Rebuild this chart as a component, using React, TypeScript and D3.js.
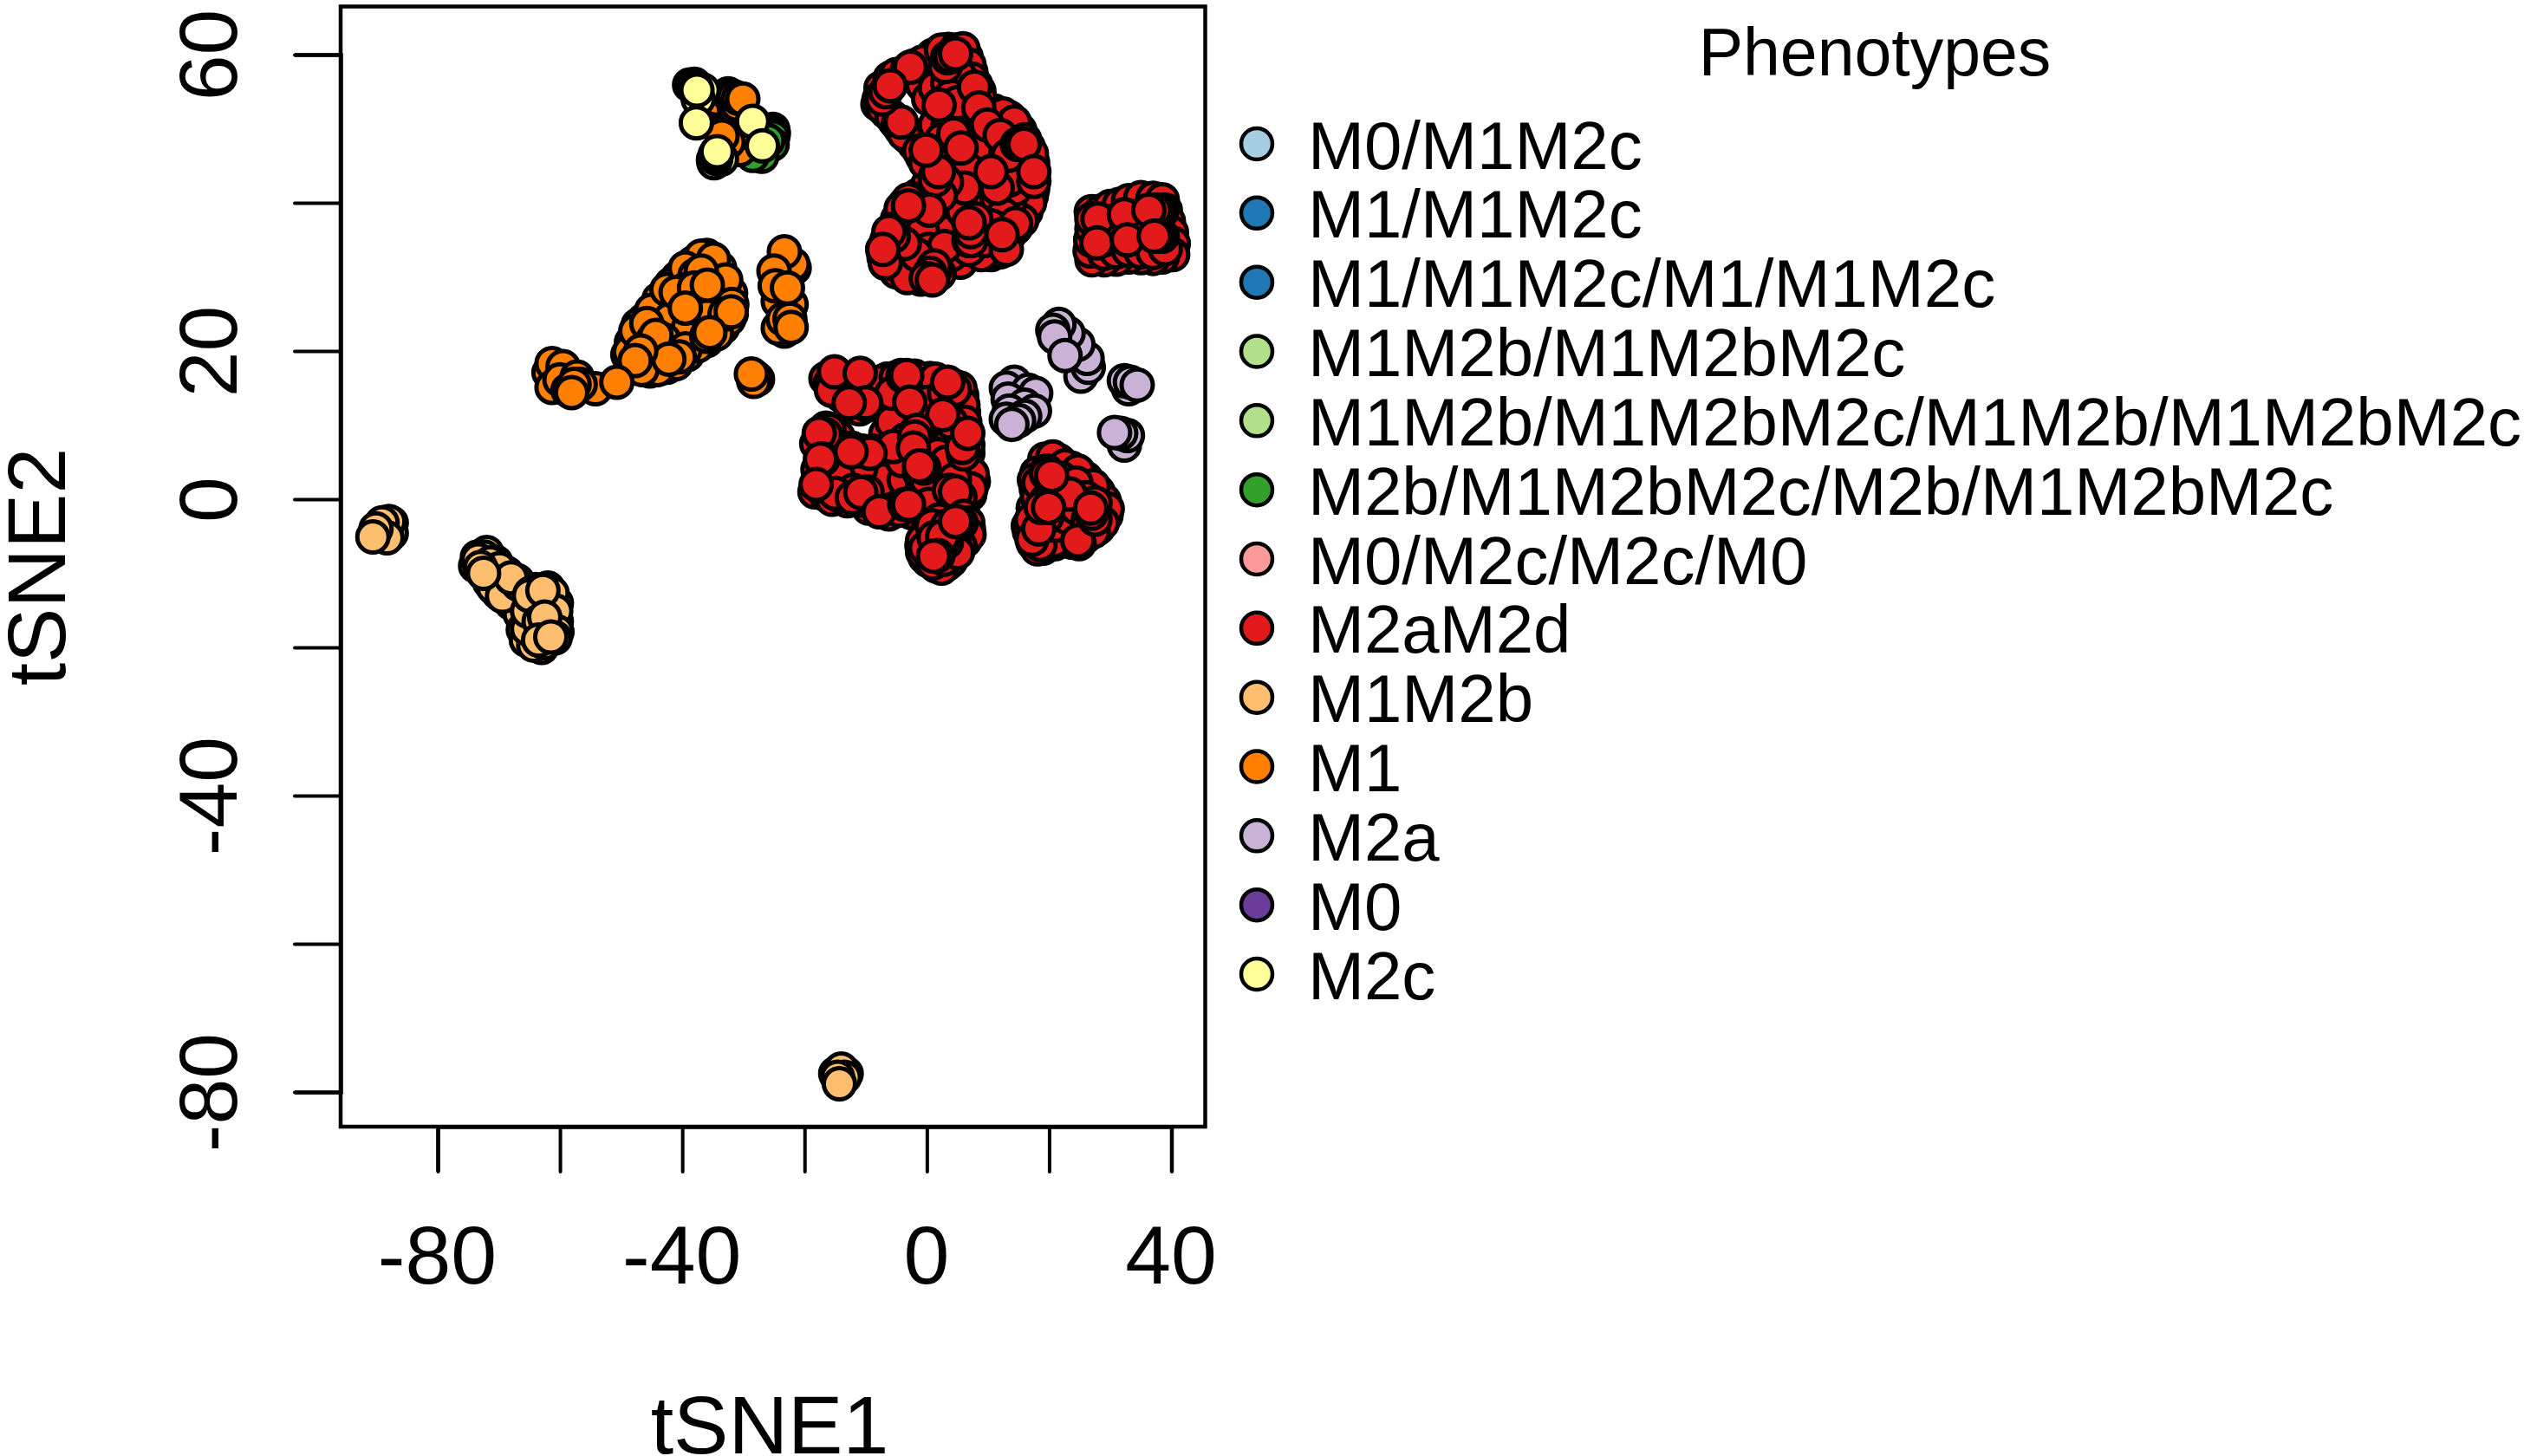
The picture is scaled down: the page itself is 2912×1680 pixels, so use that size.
import React, { useEffect, useRef } from "react";
import * as d3 from "d3";

type Pt = [number, number];

const xTicks = [-80, -60, -40, -20, 0, 20, 40];
const xLabelled = [-80, -40, 0, 40];
const yTicks = [-80, -60, -40, -20, 0, 20, 40, 60];
const yLabelled = [-80, -40, 0, 20, 60];

const legendTitle = "Phenotypes";
const phenotypes = [
  "M0/M1M2c",
  "M1/M1M2c",
  "M1/M1M2c/M1/M1M2c",
  "M1M2b/M1M2bM2c",
  "M1M2b/M1M2bM2c/M1M2b/M1M2bM2c",
  "M2b/M1M2bM2c/M2b/M1M2bM2c",
  "M0/M2c/M2c/M0",
  "M2aM2d",
  "M1M2b",
  "M1",
  "M2a",
  "M0",
  "M2c",
];
const phenotypeColors = [
  "#A6CEE3", "#1F78B4", "#1F78B4", "#B2DF8A", "#B2DF8A", "#33A02C", "#FB9A99",
  "#E31A1C", "#FDBF6F", "#FF7F00", "#CAB2D6", "#6A3D9A", "#FFFF99",
];

const greenPoints: Pt[] = [
  [-25.2, 49.9], [-25.1, 49.4], [-25.2, 48.9], [-25.3, 47.9], [-27.5, 46.8], [-27, 46.3], [-28.5, 46.4], [-26, 48.4],
];

const redTopRim: Pt[] = [
  [-8, 53.3], [-6.5, 52.2], [-5.2, 51], [-4.2, 49.9], [-3, 48.8], [-2, 47.9], [-0.7, 46.2], [0.6, 44.4], [2, 42.8],
  [-7.5, 55.5], [-6, 56.8], [-5, 57.3], [-2, 58.5], [1, 59.9], [3.5, 60.7], [6.4, 59.7], [7.2, 57.6], [8, 55.9], [8.8, 53],
  [10, 52.6], [11, 52.4], [13.5, 51.5], [15.2, 49.8], [16.6, 47.5], [17.3, 45.4], [17.4, 43], [17.1, 41], [16.2, 38.8],
  [14.5, 36.6], [12.8, 34.5], [10.5, 33], [7.9, 33.2], [5.5, 32], [4, 33], [2, 30.4], [-1, 29.7], [-5, 30.7], [-7, 32.7],
  [-6.5, 35], [-4.8, 37.8], [-3.6, 39.8], [-1.5, 41], [0.2, 42.5], [-1.8, 40.5],
];
const redTopBack: Pt[] = [
  [-7.8, 54], [-7.2, 52.8], [-5.7, 51.6], [-4.7, 50.5], [-3.7, 49.3], [-1.2, 47], [-0.2, 45.4], [1.4, 43.5],
  [-3.2, 57.9], [-0.7, 59], [2.4, 60.6], [4.7, 60.6], [5.9, 60.8], [6.9, 58.6], [7.4, 56.7], [8.5, 55.1], [8.7, 54],
  [12.5, 52], [14.3, 50.9], [16, 48.5], [17.1, 46.6], [17.3, 44.2], [17.3, 41.9], [16.8, 40], [15.5, 37.6],
  [13.5, 35.7], [12, 33.4], [8.9, 33], [6.9, 33.7], [-3, 40.4], [-4.2, 39.2], [-5.2, 36.5], [-7.2, 33.7],
  [-6.7, 31.8], [-3.2, 29.9], [0.9, 29.7], [1.4, 31],
];
const redTopInner: Pt[] = [
  [-0.7, 55.9], [0.3, 54], [1.4, 55.5], [3.4, 56.3], [5.4, 57.1], [3.9, 54.4], [2.4, 52.4], [4.4, 52],
  [1.4, 50.5], [3.4, 50.1], [5.4, 50.5], [2.4, 48.5], [4.4, 48.1], [6.4, 48.5], [5.4, 46.6], [6.9, 45.8],
  [3.9, 45.4], [5.9, 43.9], [4.9, 42.3], [7.4, 42.3], [4.4, 40.4], [6.4, 40.4], [1.9, 39.2], [3.4, 38.4],
  [1.4, 36.5], [3.9, 36.1], [-0.7, 36.1], [0.3, 33.7], [2.9, 34.1], [-1.7, 33], [-3.7, 34.5], [9.5, 40],
  [11.5, 40.7], [13.5, 40], [14.5, 41.9], [12.5, 38.4], [10.5, 36.9], [14.5, 37.2], [9.5, 34.9], [6.9, 34.9],
  [3.9, 47], [4.9, 44.9], [6.4, 52.7], [2.9, 46.2], [7.9, 47.2], [5, 53.5], [6.9, 44.4], [5.9, 38.9],
  [2, 53.2], [5.2, 49], [3, 47.2], [4.4, 49.3], [5.6, 47.4], [6.2, 42], [3.2, 42.8], [2.2, 41],
];
const redTopFront: Pt[] = [
  [-2.7, 58.3], [-4.2, 50.9], [-7.3, 54], [-6.7, 55], [-6, 55.8], [3, 58.4], [3.4, 59.6], [3.9, 59.8], [4.7, 60.1],
  [7.8, 55.6], [8.5, 52.8], [9.9, 50.5], [12, 49.1], [1.4, 43.1], [1.9, 44.2], [-0.1, 47.1], [13.5, 43.1],
  [13.3, 46.4], [14.8, 47.9], [15.3, 47.9], [15.9, 47.9], [17.5, 42.9], [17.5, 44.2], [11.5, 42], [10.5, 44.2],
  [0.4, 39], [-3, 39.6], [-5.5, 35.5], [-6.2, 36.1], [-6.8, 31.9], [-7.2, 33.7], [13, 33.7],
  [8, 37.8], [7.2, 34.9], [7.2, 36.1], [6.9, 37.3], [12.3, 35.7], [1.2, 31.5], [0.5, 30.5], [-0.1, 29.8], [0.9, 29.6],
];

const redRightBack: Pt[] = [
  [26.9, 38.8], [28.5, 38.9], [30, 39.5], [31.5, 39.8], [33, 40.3], [35, 40.7], [37, 40.6], [38.5, 40.4], [39, 39],
  [39.5, 37.5], [40, 36], [40.3, 34.5], [40.2, 33], [38.5, 32.7], [37, 32.5], [35, 32.6], [33, 32.7], [31, 32.4],
  [29, 32.3], [27, 32.3], [26.7, 33.5], [26.8, 35], [27, 36.5], [27, 37.8], [29, 33.2], [31, 33.4], [33, 33.6],
  [35, 33.4], [37, 33.3], [39, 33.8], [29, 35], [31, 35.6], [34.5, 36.6], [30, 37.5], [34.4, 38.2],
];
const redRightFront: Pt[] = [
  [28, 37.8], [27.8, 34.6], [32.3, 38.4], [32.8, 35], [38.4, 38.8], [37.8, 39], [37.2, 39], [36.3, 39],
  [38.5, 35.5], [38, 35.5], [37.6, 35.5], [37.2, 35.5],
];

const redMidRim: Pt[] = [
  [-16.5, 16.3], [-15.8, 15.6], [-14, 14], [-12.5, 12.4], [-11, 12.2], [-8.6, 14.8], [-6.5, 16.2], [-4.2, 16.7],
  [-2, 16.6], [0.5, 16.3], [2.6, 15.8], [4.6, 15.2], [5.7, 14], [6, 11.7], [6.4, 9.2], [6.7, 6.2], [6.8, 4], [7.6, 2.4],
  [7, 0.6], [-16.5, 9.6], [-18, 7.5], [-17.8, 4], [-18.3, 1], [-16.5, 0.6], [-15.5, 0], [-13, -0.2], [-9.5, -1.2],
  [-6.2, -2], [-2.5, -1.8], [1.5, -1], [3.5, -0.3],
];
const redMidBack: Pt[] = [
  [-15.6, 14.7], [-9.8, 12.7], [-7.8, 15.8], [-5, 16.4], [-0.7, 16.2], [1.4, 16.2], [5.4, 15], [5.9, 12.7], [6.2, 10.4],
  [6.7, 7.3], [6.4, 4.9], [7.4, 3.4], [7.2, 1.4], [5.4, 0.3], [-14.5, 8.4], [-12.3, 6.9], [-12.8, 3.4], [-14.3, 0.5],
  [-17.4, 1.8], [-11.3, 0.7], [-10.8, -0.1], [-7.8, -1.5], [-4.5, -1.5], [-0.7, -1.3], [-6.7, 8.8], [-6.2, 4.9],
  [-7.3, 2.6], [-3.7, 2.6], [-0.7, 1.8], [2.4, 1.8], [4.4, 4.2], [1.4, 4.5], [3.9, 7.3], [2.4, 8.4], [1.4, 9.6],
  [-0.2, 11.2], [-2.7, 11.2], [-5.7, 10.4], [-8.8, 6.5], [-10.8, 4.2], [-9.8, 1], [3.9, 10.4], [0.3, 13.1], [2.9, 14.3],
  [-5.7, 14.3], [-16, 9.3], [-15.5, 6.9], [-16, 4.5], [-14.5, 3], [-12, 1.2], [-3.5, 8], [-4, 5.2], [-1, 8.2],
  [0.3, 6.5], [1.8, 6], [3.2, 5], [-1.2, 3.6], [-5.5, 7.1], [0, 2.6], [4.5, 2.6], [6, 6.1],
];
const redMidFront: Pt[] = [
  [-15.1, 17.2], [-10.9, 17], [-3.9, 16.6], [-3.3, 16.7], [4.5, 14.8], [3.4, 15.8], [-10, 13], [-12.7, 13], [-2.8, 13.1],
  [5.8, 7], [6.7, 8.9], [2.6, 11.4], [-16.6, 8.7], [-17.6, 8.9], [-17, 5.4], [-17.4, 5.4], [-10.5, 6.5], [-9.3, 6.2],
  [-12.4, 6.4], [-1.6, 9.3], [-2, 8.4], [-2.2, 6.9], [-0.5, 4.2], [-1, 4.5], [-1.2, 4.5], [-15, 0.8], [-18.1, 2],
  [-12.2, 0.2], [-10.8, 0.9], [0.3, -0.7], [3.7, 1.2], [4.7, 1], [-7.8, -1.7], [-3.6, -0.7], [-3, -0.7],
];
const redLowBack: Pt[] = [
  [2, -2.8], [6, -2.3], [6.8, -4], [6.2, -5.6], [4.7, -7.2], [3.2, -8.8], [1.5, -9], [-0.3, -7.8], [-0.8, -6.3], [0, -4.5],
  [6.7, -3.2], [6.9, -4.8], [5.4, -6.3], [3.9, -8.3], [2.4, -9.3], [0.3, -8.3], [-0.7, -7.1], [-0.7, -5.6], [0.9, -3.6],
  [3.4, -3.6], [4.4, -5.6], [1.9, -6.7], [1, -8.6], [2.8, -8.1], [5, -7.2], [-0.2, -6.6], [3.2, -5.8], [1.2, -5.2],
];
const redLowFront: Pt[] = [[5.6, -3.2], [5.2, -3.1], [3.1, -5.4], [2.6, -5], [1.8, -7.6], [1.1, -7.7], [4.7, -3]];

const redRightLowBack: Pt[] = [
  [19.3, 5.4], [21.6, 5.2], [23.6, 4.2], [26, 2.8], [28, 1], [29, -0.2], [29.3, -2.2], [28, -3.9], [26, -5], [23.7, -5.8],
  [22.8, -5.2], [21, -6], [19, -6.6], [17.4, -5.9], [16.6, -3.6], [17.4, -1.2], [17.9, 1.4], [18, 3.5],
  [20.6, 5.7], [22.6, 4.5], [24.7, 3.8], [27.2, 1.8], [29.5, -1.3], [28.7, -3.2], [27.2, -4.4], [24.9, -6], [22.1, -4.4],
  [19.6, -6.3], [18.1, -6.7], [16.8, -4.4], [17.6, 2.6], [18.1, 0.3], [17.1, -2.8], [19.6, 3.8], [19.4, -4.9],
  [17.9, -5.4], [20.8, -5.6], [18.5, -6.1], [17.2, -5.4], [21, -3.5], [23, -2.5], [24.5, -1.2], [26.4, -2.8],
  [22, 2.8], [24.4, 2.2], [26, 0.2], [20.5, 1], [19.6, -2.4], [27.5, -0.5],
];
const redRightLowFront: Pt[] = [
  [18.3, 2.2], [19.5, -0.2], [19, -1.6], [18.3, -4], [22.5, 0.7], [23.4, 0.7], [19.6, 3.4], [20.4, 3.2], [18.7, -1.1],
  [19.9, -1.1], [24.7, -5.6], [27.5, -2.7], [26.9, -1.9], [26.8, -1.2],
];

const lightOrangePoints: Pt[] = [
  [-87.6, -3.2], [-87.6, -4.6], [-88, -3], [-89.1, -3.2], [-88.3, -5.2], [-90.1, -4], [-90.6, -5.1],
  [-73.8, -9], [-73.5, -7.8], [-72, -7.2], [-70.5, -8.5], [-68.7, -10], [-67, -11], [-71.5, -11.2], [-70, -12.7],
  [-68, -14], [-67, -13], [-66.5, -15.5], [-66, -17.6], [-65.5, -19], [-63, -20], [-60.6, -16.5], [-60.6, -14],
  [-62, -12], [-64, -12.2],
  [-72.4, -7.8], [-73.4, -8.2], [-71.4, -8.6], [-69.9, -9.4], [-70.9, -11.9], [-69.4, -13.1], [-66.8, -11.5],
  [-68, -10.6], [-64.8, -12.7], [-61.3, -12.7], [-60.7, -15.1], [-60.5, -17.9], [-60.8, -18.7], [-64.3, -19.7],
  [-62.5, -19.4], [-65.3, -17.5], [-65.3, -15.1], [-73, -9.2], [-72.5, -10], [-65, -13], [-62.8, -12.3], [-63.4, -16.5],
  [-62.5, -15.9], [-63.5, -19], [-61.5, -18.6],
  [-13.2, -77.5], [-14.9, -77.5], [-14, -76.9], [-13.5, -78], [-14.6, -78], [-14.3, -78.9],
];

const orangePoints: Pt[] = [
  [-36, 32.9], [-38.2, 31.9], [-40.7, 29.9], [-41.8, 29], [-43.8, 27], [-46.2, 24.2], [-47.2, 23.5], [-48.3, 21.2],
  [-48.9, 19.5], [-47.6, 18], [-45.3, 17.3], [-42.5, 17.8], [-39.2, 19.5], [-36, 21.4], [-33.4, 23.2], [-32, 25],
  [-32.1, 27.8], [-33.9, 31.2], [-43, 19.9], [-40, 25], [-37, 24], [-41, 22], [-44, 23.5], [-38, 27.5], [-34, 27],
  [-34, 24.5], [-46, 22], [-37.5, 22],
  [-36.9, 32.8], [-34.9, 32.4], [-32.9, 29.6], [-31.9, 26.3], [-32.4, 24.3], [-34.4, 22.3], [-37.5, 20.7], [-41, 18.3],
  [-44, 17.5], [-46.6, 17.5], [-48.6, 19.9], [-47.6, 22.7], [-45, 25.5], [-42.5, 28.3], [-39.5, 31.2], [-37.9, 30.2],
  [-36.9, 30.8], [-39.5, 28.3], [-36.9, 26.3], [-42, 24.3], [-39, 23.1], [-43, 21.5], [-39.5, 20.3], [-36, 24.7],
  [-45.5, 20.7], [-41, 27.9], [-38, 28.5], [-35.9, 28.9], [-39.5, 25.8], [-33, 25], [-32, 25.3], [-36, 22], [-35.5, 22.5],
  [-45.8, 23.7], [-44.8, 21.5], [-44.3, 22.1], [-40.5, 19.2], [-42.2, 18.9], [-46.8, 20], [-47.7, 18.7],
  [-54.2, 14.9], [-50.7, 15.8], [-61.8, 17.1], [-61.3, 18.3], [-59.5, 17.9], [-61.3, 15.1], [-60, 16.1], [-57.2, 16.5],
  [-56.7, 15.5], [-58.7, 14.7], [-57.7, 15.5], [-58.1, 14.4],
  [-21.7, 31.2], [-21.9, 31.7], [-23.3, 33.4], [-25, 30.8], [-22.2, 26.3], [-24.3, 26.7], [-23.3, 22.7], [-24.3, 23.1],
  [-23.5, 24.3], [-22.4, 24.3], [-22.2, 23.2], [-24.8, 28.8], [-22.8, 28.5],
  [-27.7, 16.2], [-28.1, 16.5], [-28.3, 15.9], [-28.7, 16.9],
  [-33.9, 51.2], [-34.3, 54], [-32.5, 54.7], [-33, 50], [-32.2, 50], [-33, 48.7], [-31.8, 47.5], [-30.6, 47.2], [-30.2, 49.5],
  [-32.5, 48.2], [-33.5, 49], [-31.5, 52.9], [-32.2, 54.5], [-31.5, 54.3], [-31, 53.3], [-30.8, 54.1], [-30.1, 54],
];

const lilacPoints: Pt[] = [
  [25.2, 16.6], [26.4, 17.8], [26.2, 19], [24.7, 20.9], [23.1, 22.4], [21.6, 23.6], [20.6, 22.8], [20.9, 21.9], [22.6, 19.4],
  [14.3, 15.8], [13, 15], [16.6, 14.7], [17.8, 14.3], [13.3, 13.5], [16, 12.7], [17.6, 11.9], [13.5, 11.9], [16, 11.2],
  [13, 10.8], [15, 10.6], [13.9, 10.1],
  [33, 14.9], [32.3, 16], [33.3, 15.8], [34.4, 15.4],
  [32.3, 7.3], [32.8, 8.6], [31.7, 8.9], [30.7, 9],
];

const yellowPoints: Pt[] = [
  [-38.8, 55.9], [-38, 56], [-36.6, 55.2], [-37.4, 54], [-38.2, 55.8], [-37.9, 55.5], [-37.6, 55.2], [-37.7, 50.8],
  [-33.6, 45.9], [-34.9, 45.8], [-34.8, 45.4], [-34.5, 46], [-34.6, 46.5], [-34.3, 46.9],
  [-28.5, 51], [-26.9, 47.7],
];

const reds = [
  ...redTopRim, ...redTopBack, ...redTopInner, ...redTopFront,
  ...redRightBack, ...redRightFront,
  ...redMidRim, ...redMidBack, ...redMidFront,
  ...redLowBack, ...redLowFront,
  ...redRightLowBack, ...redRightLowFront,
];

const seriesInDrawOrder: { name: string; points: Pt[] }[] = [
  { name: "M2b/M1M2bM2c/M2b/M1M2bM2c", points: greenPoints },
  { name: "M2aM2d", points: reds },
  { name: "M1M2b", points: lightOrangePoints },
  { name: "M1", points: orangePoints },
  { name: "M2a", points: lilacPoints },
  { name: "M2c", points: yellowPoints },
];

const FONT = "'Liberation Sans', Arial, sans-serif";

export default function App() {
  const axisBottomRef = useRef<SVGGElement>(null);
  const axisLeftRef = useRef<SVGGElement>(null);

  const x = d3.scaleLinear().domain([-80, 40]).range([505, 1351.5]);
  const y = d3.scaleLinear().domain([-80, 60]).range([1260, 63]);
  const color = d3.scaleOrdinal<string, string>().domain(phenotypes).range(phenotypeColors);
  const legendY = d3.scalePoint<string>().domain(phenotypes).range([166, 1124]);

  useEffect(() => {
    const bottom = d3.select(axisBottomRef.current!);
    bottom.call(
      d3.axisBottom(x).tickValues(xTicks).tickSize(52).tickPadding(0)
        .tickFormat((d) => (xLabelled.includes(+d) ? String(d) : "")) as any
    );
    bottom.select(".domain").attr("stroke-width", 4.5).attr("stroke", "#000");
    bottom.selectAll(".tick line").attr("stroke-width", 4).attr("stroke", "#000").attr("stroke-linecap", "round");
    bottom.selectAll(".tick text")
      .attr("y", 181).attr("dy", null).attr("x", -1)
      .attr("font-family", FONT).attr("font-size", 95).attr("fill", "#000").attr("text-anchor", "middle");

    const left = d3.select(axisLeftRef.current!);
    left.call(
      d3.axisLeft(y).tickValues(yTicks).tickSize(53).tickPadding(0)
        .tickFormat((d) => (yLabelled.includes(+d) ? String(d) : "")) as any
    );
    left.select(".domain").attr("stroke-width", 4.5).attr("stroke", "#000");
    left.selectAll(".tick line").attr("stroke-width", 4).attr("stroke", "#000").attr("stroke-linecap", "round");
    left.selectAll(".tick text")
      .attr("x", null).attr("dy", null).attr("y", null)
      .attr("transform", "translate(-120,0) rotate(-90)")
      .attr("font-family", FONT).attr("font-size", 95).attr("fill", "#000").attr("text-anchor", "middle");
  }, []);

  return (
    <svg
      width={2912}
      height={1680}
      style={{ position: "absolute", left: 0, top: 0, background: "#fff" }}
    >
      <g>
        {seriesInDrawOrder.map((s) =>
          s.points.map((p, i) => (
            <circle
              key={s.name + i}
              cx={x(p[0])}
              cy={y(p[1])}
              r={18}
              fill={color(s.name)}
              stroke="#000"
              strokeWidth={5}
            />
          ))
        )}
      </g>
      <rect x={393} y={7.5} width={997.5} height={1292.5} fill="none" stroke="#000" strokeWidth={4.5} />
      <g ref={axisBottomRef} transform="translate(0,1300)" />
      <g ref={axisLeftRef} transform="translate(393,0)" />
      <text x={888} y={1677} fontFamily={FONT} fontSize={95} textAnchor="middle">tSNE1</text>
      <text
        transform="translate(75,654) rotate(-90)"
        fontFamily={FONT}
        fontSize={95}
        textAnchor="middle"
      >
        tSNE2
      </text>
      <text x={2163} y={87} fontFamily={FONT} fontSize={77} textAnchor="middle">{legendTitle}</text>
      {phenotypes.map((name) => (
        <g key={name}>
          <circle cx={1450} cy={legendY(name)} r={18} fill={color(name)} stroke="#000" strokeWidth={4.5} />
          <text x={1509} y={(legendY(name) as number) + 28.5} fontFamily={FONT} fontSize={78}>{name}</text>
        </g>
      ))}
    </svg>
  );
}
